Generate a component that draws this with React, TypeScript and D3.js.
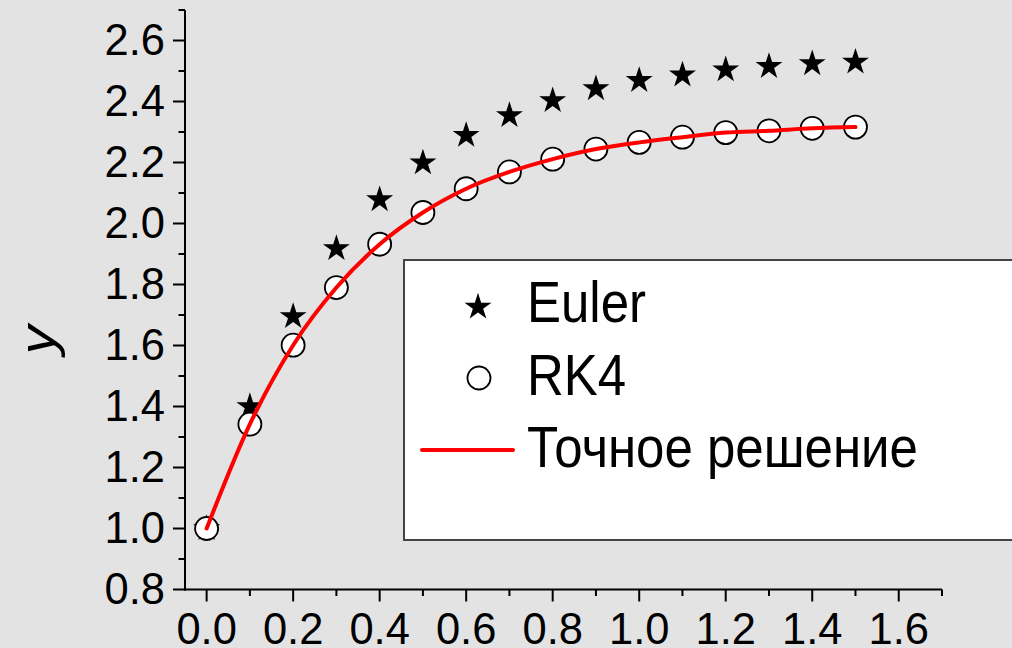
import * as d3 from "d3";

// x steps shared by both numerical methods and the exact solution
const xs = [0, 0.1, 0.2, 0.3, 0.4, 0.5, 0.6, 0.7, 0.8, 0.9, 1.0, 1.1, 1.2, 1.3, 1.4, 1.5];
const eulerY = [1.0, 1.4, 1.695, 1.918, 2.078, 2.199, 2.289, 2.354, 2.403, 2.442, 2.469, 2.487, 2.504, 2.515, 2.524, 2.529];
const rk4Y = [1.0, 1.342, 1.601, 1.79, 1.932, 2.036, 2.114, 2.169, 2.211, 2.244, 2.266, 2.283, 2.298, 2.304, 2.312, 2.316];
const exactY = [1.0, 1.342, 1.601, 1.79, 1.932, 2.036, 2.114, 2.169, 2.211, 2.244, 2.266, 2.283, 2.298, 2.304, 2.312, 2.316];

const xTicks = [0, 0.2, 0.4, 0.6, 0.8, 1.0, 1.2, 1.4, 1.6];
const xMinor = [0.1, 0.3, 0.5, 0.7, 0.9, 1.1, 1.3, 1.5, 1.7];
const yTicks = [0.8, 1.0, 1.2, 1.4, 1.6, 1.8, 2.0, 2.2, 2.4, 2.6];
const yMinor = [0.9, 1.1, 1.3, 1.5, 1.7, 1.9, 2.1, 2.3, 2.5, 2.7];
const legendLabels = ["Euler", "RK4", "Точное решение"];

export default function App() {
  const width = 1012;
  const height = 648;
  const font = "'Liberation Sans', Arial, sans-serif";

  const x = d3.scaleLinear().domain([-0.05, 1.7]).range([185, 942]);
  const y = d3.scaleLinear().domain([0.8, 2.7]).range([589.5, 10]);

  const star = d3.symbol().type(d3.symbolStar).size(225)();
  const line = d3
    .line<number>()
    .x((_, i) => x(xs[i]))
    .y((d) => y(d))
    .curve(d3.curveMonotoneX);

  const x0 = x.range()[0];
  const y0 = y.range()[0];

  return (
    <svg
      width={width}
      height={height}
      style={{ position: "absolute", left: 0, top: 0, background: "#e3e3e3" }}
      fontFamily={font}
    >
      <rect width={width} height={height} fill="#e3e3e3" />

      {/* legend box, its right side runs off the picture */}
      <rect x={404} y={260} width={700} height={280} fill="#fff" stroke="#444" strokeWidth={2} />
      <path d={star} transform="translate(478,307)" fill="#000" />
      <circle cx={479} cy={378} r={11.5} fill="#fff" stroke="#000" strokeWidth={1.8} />
      <line x1={422} x2={513} y1={450} y2={450} stroke="#ff0000" strokeWidth={4} strokeLinecap="round" />
      {legendLabels.map((t, i) => (
        <text
          key={t}
          transform={`translate(527,${322 + i * 72.5}) scale(1,1.14)`}
          fontSize={51}
          fill="#000"
        >
          {t}
        </text>
      ))}

      {/* axes */}
      <g stroke="#000" strokeWidth={2}>
        <line x1={x0} x2={x0} y1={y(2.7)} y2={y0 + 1} />
        <line x1={x0 - 1} x2={x(1.7)} y1={y0} y2={y0} />
        {yTicks.map((v) => (
          <line key={"ym" + v} x1={x0 - 12} x2={x0} y1={y(v)} y2={y(v)} />
        ))}
        {yMinor.map((v) => (
          <line key={"yn" + v} x1={x0 - 6.5} x2={x0} y1={y(v)} y2={y(v)} />
        ))}
        {xTicks.map((v) => (
          <line key={"xm" + v} x1={x(v)} x2={x(v)} y1={y0} y2={y0 + 12} />
        ))}
        {xMinor.map((v) => (
          <line key={"xn" + v} x1={x(v)} x2={x(v)} y1={y0} y2={y0 + 6.5} />
        ))}
      </g>
      {yTicks.map((v) => (
        <text key={"yl" + v} x={165} y={y(v) + 14} textAnchor="end" fontSize={43.5} fill="#000">
          {v.toFixed(1)}
        </text>
      ))}
      {xTicks.map((v) => (
        <text key={"xl" + v} x={x(v)} y={644} textAnchor="middle" fontSize={43.5} fill="#000">
          {v.toFixed(1)}
        </text>
      ))}
      <text
        transform="translate(55,340) rotate(-90) scale(1.16,1)"
        textAnchor="middle"
        fontSize={50}
        fontStyle="italic"
        fill="#000"
      >
        y
      </text>

      {/* data */}
      {eulerY.map((v, i) => (
        <path key={"e" + i} d={star} transform={`translate(${x(xs[i])},${y(v)})`} fill="#000" />
      ))}
      {rk4Y.map((v, i) => (
        <circle key={"r" + i} cx={x(xs[i])} cy={y(v)} r={11.5} fill="#fff" stroke="#000" strokeWidth={1.8} />
      ))}
      <path d={line(exactY) || ""} fill="none" stroke="#ff0000" strokeWidth={4} strokeLinecap="round" />
    </svg>
  );
}
